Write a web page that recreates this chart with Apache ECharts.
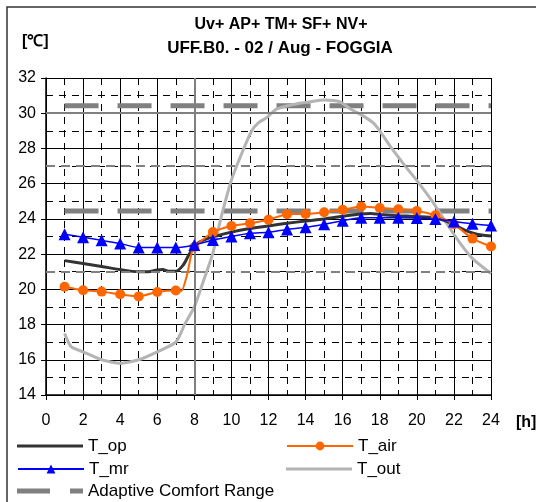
<!DOCTYPE html>
<html>
<head>
<meta charset="utf-8">
<script src="https://cdn.jsdelivr.net/npm/echarts@6/dist/echarts.min.js"></script>
<style>
html,body{margin:0;padding:0;background:#fff}
#chart{width:536px;height:502px}
</style>
</head>
<body>
<div id="chart"></div>
<script>
// hourly values (markers every hour)
const hours = [1,2,3,4,5,6,7,8,9,10,11,12,13,14,15,16,17,18,19,20,21,22,23,24]
const tAir = [20.15,19.95,19.87,19.72,19.6,19.85,19.93,22.4,23.25,23.6,23.75,23.95,24.27,24.28,24.38,24.52,24.7,24.62,24.55,24.45,24.2,23.7,22.88,22.43]
const tMr = [23.13,22.96,22.78,22.6,22.37,22.37,22.37,22.52,22.8,23.0,23.18,23.24,23.4,23.52,23.7,23.9,24.07,24.07,24.07,24.05,24.0,23.85,23.72,23.62]
// extra points of T_air between 7h and 8h (no marker)
const tAirRiseHours = [7.3,7.6,7.85]
const tAirRise = [19.9,20.8,22.05]

const tOpHours = [1,2,3,4,5,5.5,6,6.3,6.6,7,7.4,7.7,8,8.3,9,10,11,12,13,14,15,16,17,17.5,18,19,20,21,21.5,22,22.5,23,23.5,24]
const tOp = [21.63,21.47,21.3,21.12,21.0,21.0,21.1,21.12,21.03,21.03,21.38,21.95,22.45,22.7,22.98,23.25,23.45,23.6,23.75,23.88,24.0,24.15,24.28,24.3,24.25,24.18,24.13,24.05,23.9,23.68,23.4,23.2,23.08,23.03]

const tOutHours = [1,1.35,2,3,4,5,6,7,7.5,8,8.5,9,9.4,10,10.55,11.1,11.45,11.9,12.45,13.35,14.25,15,15.85,16.4,17.1,17.65,18,18.55,19.45,20.1,20.9,21.6,22.35,23.05,24]
const tOut = [17.5,16.75,16.45,16.0,15.8,16.0,16.45,17.0,18.05,19.0,20.5,22.05,23.9,26.2,27.7,29.0,29.45,29.75,30.25,30.5,30.65,30.75,30.65,30.25,29.85,29.45,29.0,28.15,26.9,26.05,24.9,23.75,22.6,21.7,20.9]

const comfortHours = [1,24]
const comfortUpper = [30.42,30.42]
const comfortLower = [24.45,24.45]

const FONT = '"Liberation Sans", Arial, sans-serif'

const pairs = (xs, ys) => xs.map((x, i) => [x, ys[i]])

const airData = pairs(hours, tAir).concat(
  tAirRiseHours.map((x, i) => ({ value: [x, tAirRise[i]], symbol: 'none' }))
).sort((a, b) => (a.value || a)[0] - (b.value || b)[0])

const myChart = echarts.init(document.querySelector('#chart'))

const comfortStyle = { color: '#808080', width: 5, type: [34, 19] }

// one legend per entry, so each can sit where the original has it
const legendItem = (item, left, top) => ({
  data: [item], left: left, top: top, padding: 0,
  itemWidth: 66, itemHeight: 11, selectedMode: false,
  textStyle: { color: '#000', fontFamily: FONT, fontSize: 17, lineHeight: 18 }
})

const option = {
  animation: false,
  grid: { left: 46, right: 45, top: 78, bottom: 107 },
  xAxis: {
    type: 'value', min: 0, max: 24, interval: 2,
    axisLine: { show: true, lineStyle: { color: '#000', width: 1.5 } },
    axisTick: { show: true, length: 5, lineStyle: { color: '#000' } },
    axisLabel: { color: '#000', fontFamily: FONT, fontSize: 16, margin: 18 },
    splitLine: { show: true, lineStyle: { color: '#000', width: 1 } },
    minorTick: { show: false, splitNumber: 2 },
    minorSplitLine: { show: true, lineStyle: { color: '#000', width: 1, type: [7, 6] } }
  },
  yAxis: {
    type: 'value', min: 14, max: 32, interval: 2,
    axisLine: { show: true, lineStyle: { color: '#000', width: 1.5 } },
    axisTick: { show: true, length: 5, lineStyle: { color: '#000' } },
    axisLabel: { color: '#000', fontFamily: FONT, fontSize: 16, margin: 10 },
    splitLine: { show: true, lineStyle: { color: '#000', width: 1 } },
    minorTick: { show: false, splitNumber: 2 },
    minorSplitLine: { show: true, lineStyle: { color: '#000', width: 1, type: [7, 6] } }
  },
  legend: [
    legendItem({ name: 'T_op', icon: 'path://M0,0H66V3H0Z' }, 17, 437),
    legendItem('T_air', 286, 437),
    legendItem('T_mr', 17, 460),
    legendItem({ name: 'T_out', icon: 'path://M0,0H69V3H0Z' }, 286, 460),
    legendItem({ name: 'Adaptive Comfort Range', icon: 'path://M0,0H33V5H0Z M53,0H66V5H53Z' }, 17, 482)
  ],
  graphic: [
    { type: 'rect', shape: { x: 7, y: 7, width: 600, height: 600 }, style: { fill: 'none', stroke: '#333', lineWidth: 1.5 }, silent: true },
    { type: 'text', x: 281, y: 25, style: { text: 'Uv+ AP+ TM+ SF+ NV+', font: 'bold 16px ' + FONT, fill: '#000', align: 'center', verticalAlign: 'middle' } },
    { type: 'text', x: 280, y: 48, style: { text: 'UFF.B0. - 02 / Aug - FOGGIA', font: 'bold 17px ' + FONT, fill: '#000', align: 'center', verticalAlign: 'middle' } },
    { type: 'text', x: 22, y: 42, style: { text: '[℃]', font: 'bold 16px ' + FONT, fill: '#000', align: 'left', verticalAlign: 'middle' } },
    { type: 'text', x: 516, y: 423, style: { text: '[h]', font: 'bold 16px ' + FONT, fill: '#000', align: 'left', verticalAlign: 'middle' } }
  ],
  series: [
    {
      name: 'Adaptive Comfort Range', type: 'line', z: 2,
      data: pairs(comfortHours, comfortUpper), symbol: 'none',
      lineStyle: comfortStyle, itemStyle: { color: '#808080' },
      markLine: {
        silent: true, symbol: 'none', label: { show: false },
        lineStyle: { color: '#808080', width: 2, type: 'solid' },
        data: [
          { yAxis: 30 },
          { xAxis: 8 },
          { yAxis: 27, lineStyle: { type: [9, 6] } },
          { yAxis: 21, lineStyle: { type: [9, 6] } }
        ]
      }
    },
    {
      name: 'Adaptive Comfort Range', type: 'line', z: 2,
      data: pairs(comfortHours, comfortLower), symbol: 'none',
      lineStyle: comfortStyle, itemStyle: { color: '#808080' }
    },
    {
      name: 'T_out', type: 'line', z: 3, smooth: 0.2,
      data: pairs(tOutHours, tOut), symbol: 'none',
      lineStyle: { color: '#b4b4b4', width: 3 }, itemStyle: { color: '#b4b4b4' }
    },
    {
      name: 'T_op', type: 'line', z: 4, smooth: 0.3,
      data: pairs(tOpHours, tOp), symbol: 'none',
      lineStyle: { color: '#333333', width: 3 }, itemStyle: { color: '#333333' }
    },
    {
      name: 'T_air', type: 'line', z: 5, smooth: 0.2,
      data: airData, symbol: 'circle', symbolSize: 10, showAllSymbol: true,
      lineStyle: { color: '#ff6600', width: 2 }, itemStyle: { color: '#ff6600' }
    },
    {
      name: 'T_mr', type: 'line', z: 6, smooth: 0.2,
      data: pairs(hours, tMr), symbol: 'triangle', symbolSize: 12, showAllSymbol: true,
      lineStyle: { color: '#0000ff', width: 1.5 }, itemStyle: { color: '#0000ff' }
    }
  ]
}

myChart.setOption(option)
</script>
</body>
</html>
